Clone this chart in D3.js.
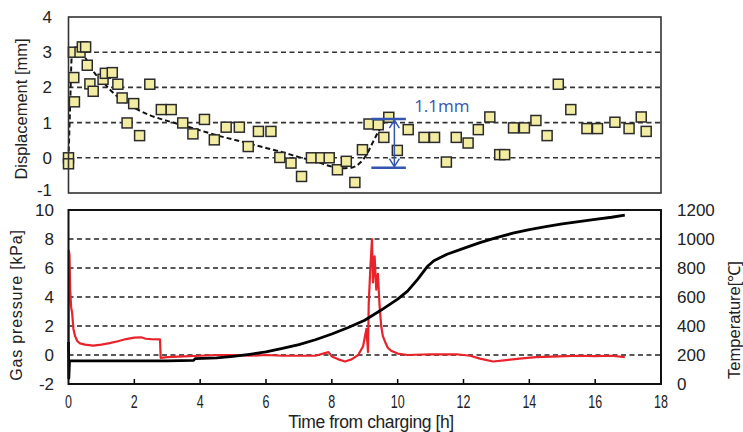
<!DOCTYPE html>
<html>
<head>
<meta charset="utf-8">
<script src="https://cdn.jsdelivr.net/npm/d3@7"></script>
<style>
  body { margin: 0; background: #fff; }
  svg { display: block; }
  text { font-family: Arial, "Liberation Sans", sans-serif; fill: #222; }
</style>
</head>
<body>
<div id="visual"></div>
<script>
// displacement measurements [h, mm]
const dispPoints = [
  [0, 0], [0, -0.17], [0.16, 2.28], [0.18, 1.59], [0.15, 3.0], [0.35, 3.0], [0.42, 3.15], [0.52, 3.15],
  [0.57, 2.63], [0.65, 2.1], [0.75, 1.89], [1.05, 2.23], [1.12, 2.4], [1.33, 2.42], [1.5, 2.09],
  [1.63, 1.7], [1.78, 0.99], [1.98, 1.54], [2.16, 0.63], [2.47, 2.09], [2.82, 1.37], [3.12, 1.37],
  [3.47, 0.99], [3.78, 0.68], [4.13, 1.09], [4.43, 0.51], [4.79, 0.87], [5.19, 0.87], [5.46, 0.32],
  [5.77, 0.75], [6.15, 0.75], [6.42, 0.01], [6.76, -0.15], [7.08, -0.53], [7.38, 0], [7.67, 0],
  [7.92, 0], [8.17, -0.34], [8.44, -0.1], [8.7, -0.7], [8.93, 0.23], [9.13, 0.96], [9.41, 0.94],
  [9.58, 0.58], [9.73, 1.15], [9.99, 0.21], [10.32, 0.8], [10.8, 0.58], [11.12, 0.58], [11.48, -0.12],
  [11.78, 0.58], [12.14, 0.42], [12.45, 0.8], [12.8, 1.16], [13.1, 0.09], [13.25, 0.09], [13.52, 0.85],
  [13.85, 0.85], [14.2, 1.06], [14.54, 0.63], [14.88, 2.09], [15.26, 1.37], [15.75, 0.83],
  [16.07, 0.83], [16.6, 1.01], [17.03, 0.83], [17.4, 1.16], [17.55, 0.75]
];

// dashed trend line [h, mm]
const dispTrend = [
  [0, -0.05], [0.05, 1.5], [0.1, 2.9], [0.18, 3.1], [0.28, 3.13], [0.4, 3.0], [0.6, 2.7], [0.8, 2.4],
  [1.0, 2.2], [1.3, 1.9], [1.6, 1.65], [2.0, 1.42], [2.5, 1.2], [3.0, 1.05], [3.5, 0.92], [4.0, 0.78],
  [4.5, 0.64], [5.0, 0.52], [5.5, 0.4], [6.0, 0.28], [6.5, 0.16], [7.0, 0.02], [7.5, -0.1], [8.0, -0.25],
  [8.3, -0.3], [8.6, -0.28], [8.85, -0.15], [9.05, 0.08], [9.25, 0.45], [9.45, 0.8], [9.7, 1.15]
];

// gas pressure [h, kPa]
const gasPressure = [
  [0, 0.2], [0.01, 7.2], [0.03, 6.9], [0.05, 4.5], [0.08, 3.3], [0.11, 2.9], [0.15, 1.8], [0.2, 1.3],
  [0.27, 0.95], [0.35, 0.8], [0.5, 0.72], [0.75, 0.65], [1.0, 0.72], [1.25, 0.82], [1.5, 0.95],
  [1.75, 1.1], [2.0, 1.2], [2.2, 1.22], [2.35, 1.12], [2.5, 1.1], [2.78, 1.08], [2.8, -0.2], [3.0, -0.15],
  [3.5, -0.1], [4.0, -0.05], [4.5, 0.0], [5.0, 0.0], [5.5, -0.05], [6.0, 0.0], [6.5, -0.05], [7.0, -0.05],
  [7.5, -0.05], [7.9, 0.2], [8.0, -0.1], [8.2, -0.3], [8.4, -0.45], [8.6, -0.3], [8.8, 0.0], [8.95, 0.6],
  [9.05, 1.8], [9.1, 0.2], [9.12, 3.5], [9.17, 6.0], [9.22, 8.0], [9.25, 5.0], [9.3, 6.8], [9.35, 4.5],
  [9.4, 5.6], [9.45, 3.4], [9.5, 2.0], [9.55, 1.3], [9.62, 0.9], [9.7, 0.5], [9.8, 0.3], [10.0, 0.1],
  [10.3, 0.0], [11.0, 0.05], [11.8, 0.05], [12.2, -0.05], [12.5, -0.25], [12.9, -0.45], [13.3, -0.35],
  [13.7, -0.25], [14.2, -0.15], [14.9, -0.1], [15.5, -0.05], [16.0, -0.08], [16.5, -0.05], [16.9, -0.15]
];

// temperature [h, degC]
const temperature = [
  [0, 290], [0.01, 40], [0.03, 160], [1, 160], [2, 160], [3, 160], [3.8, 163], [3.85, 175], [4.5, 180],
  [5, 190], [5.5, 205], [6, 222], [6.5, 245], [7, 272], [7.5, 305], [8, 345], [8.5, 390], [9, 440],
  [9.5, 510], [10, 585], [10.3, 640], [10.6, 720], [10.9, 810], [11.1, 850], [11.5, 895], [12, 935],
  [12.5, 975], [13, 1010], [13.5, 1040], [14, 1065], [14.5, 1085], [15, 1105], [15.5, 1120],
  [16, 1135], [16.5, 1150], [16.9, 1165]
];

// 1.1 mm annotation
const annotLevels = [1.1, -0.28];
const annotSpan = [9.2, 10.25];
const annotArrowX = 9.9;
const annotLabel = "1.1mm";

const xTicks = [0, 2, 4, 6, 8, 10, 12, 14, 16, 18];
const dispTicks = [-1, 0, 1, 2, 3, 4];
const dispGrid = [0, 1, 2, 3];
const gasTicks = [-2, 0, 2, 4, 6, 8, 10];
const gasGrid = [0, 2, 4, 6, 8];
const tempTicks = [0, 200, 400, 600, 800, 1000, 1200];

const width = 743, height = 432;
const svg = d3.select("#visual").append("svg")
  .attr("width", width).attr("height", height);

const x = d3.scaleLinear().domain([0, 18]).range([68.5, 661]);
const yDisp = d3.scaleLinear().domain([-1, 4]).range([193, 17]);
const yGas = d3.scaleLinear().domain([-2, 10]).range([384, 210]);
const yTemp = d3.scaleLinear().domain([0, 1200]).range([384, 210]);

// ---------- top panel ----------
const topG = svg.append("g");

topG.selectAll(".grid").data(dispGrid).enter().append("line")
  .attr("x1", x(0)).attr("x2", x(18))
  .attr("y1", d => yDisp(d)).attr("y2", d => yDisp(d))
  .attr("stroke", "#333").attr("stroke-width", 1.6).attr("stroke-dasharray", "5,3.5");

topG.append("path")
  .datum(dispTrend)
  .attr("fill", "none").attr("stroke", "#111").attr("stroke-width", 2)
  .attr("stroke-dasharray", "5,3")
  .attr("d", d3.line().curve(d3.curveMonotoneX).x(d => x(d[0])).y(d => yDisp(d[1])));

topG.selectAll(".pt").data(dispPoints).enter().append("rect")
  .attr("x", d => x(d[0]) - 5).attr("y", d => yDisp(d[1]) - 5)
  .attr("width", 10).attr("height", 10)
  .attr("fill", "#F3EDA4").attr("stroke", "#2b2b2b").attr("stroke-width", 1.5);

topG.append("rect")
  .attr("x", x(0)).attr("y", yDisp(4))
  .attr("width", x(18) - x(0)).attr("height", yDisp(-1) - yDisp(4))
  .attr("fill", "none").attr("stroke", "#333").attr("stroke-width", 1.6);

topG.selectAll(".ylab").data(dispTicks).enter().append("text")
  .attr("x", 52).attr("y", d => yDisp(d) + (d === -1 ? 3 : 6))
  .attr("text-anchor", "end").style("font-size", "17px")
  .text(d => d);

topG.append("text")
  .attr("transform", "translate(27," + 109 + ") rotate(-90)")
  .attr("text-anchor", "middle").style("font-size", "16.5px")
  .text("Displacement [mm]");

// annotation
const blue = "#3555B0";
topG.selectAll(".annot").data(annotLevels).enter().append("line")
  .attr("x1", x(annotSpan[0])).attr("x2", x(annotSpan[1]))
  .attr("y1", d => yDisp(d)).attr("y2", d => yDisp(d))
  .attr("stroke", blue).attr("stroke-width", 2.5);

const ax = x(annotArrowX);
const ay1 = yDisp(annotLevels[0]) + 1, ay2 = yDisp(annotLevels[1]) - 1;
topG.append("line").attr("x1", ax).attr("x2", ax).attr("y1", ay1).attr("y2", ay2)
  .attr("stroke", blue).attr("stroke-width", 1.5);
topG.append("path")
  .attr("d", `M${ax - 5},${ay1 + 8}L${ax},${ay1}L${ax + 5},${ay1 + 8}M${ax - 5},${ay2 - 8}L${ax},${ay2}L${ax + 5},${ay2 - 8}`)
  .attr("fill", "none").attr("stroke", blue).attr("stroke-width", 1.5);

topG.append("text")
  .attr("x", x(10.5)).attr("y", yDisp(1.31))
  .style("font-size", "17px").style("fill", blue)
  .style("font-family", "'Open Sans', Calibri, sans-serif")
  .text(annotLabel);

// ---------- bottom panel ----------
const botG = svg.append("g");

botG.selectAll(".grid").data(gasGrid).enter().append("line")
  .attr("x1", x(0)).attr("x2", x(18))
  .attr("y1", d => yGas(d)).attr("y2", d => yGas(d))
  .attr("stroke", "#222").attr("stroke-width", 1.6).attr("stroke-dasharray", "5,3.5");

botG.append("path")
  .datum(gasPressure)
  .attr("fill", "none").attr("stroke", "#E8232B").attr("stroke-width", 2.2)
  .attr("stroke-linejoin", "round")
  .attr("d", d3.line().x(d => x(d[0])).y(d => yGas(d[1])));

botG.append("path")
  .datum(temperature)
  .attr("fill", "none").attr("stroke", "#000").attr("stroke-width", 2.8)
  .attr("stroke-linejoin", "round")
  .attr("d", d3.line().x(d => x(d[0])).y(d => yTemp(d[1])));

// inner ticks on bottom edge
botG.selectAll(".xt").data(xTicks.slice(1, -1)).enter().append("line")
  .attr("x1", d => x(d)).attr("x2", d => x(d))
  .attr("y1", yGas(-2)).attr("y2", yGas(-2) - 5)
  .attr("stroke", "#000").attr("stroke-width", 1.5);

botG.append("rect")
  .attr("x", x(0)).attr("y", yGas(10))
  .attr("width", x(18) - x(0)).attr("height", yGas(-2) - yGas(10))
  .attr("fill", "none").attr("stroke", "#111").attr("stroke-width", 2);

// condensed tick numbers under the bottom panel
botG.selectAll(".xlab").data(xTicks).enter().append("text")
  .attr("transform", d => "translate(" + x(d) + ",408) scale(0.78,1.12)")
  .attr("text-anchor", "middle")
  .style("font-size", "16px")
  .text(d => d);

botG.selectAll(".ylab").data(gasTicks).enter().append("text")
  .attr("x", 54).attr("y", d => yGas(d) + 6)
  .attr("text-anchor", "end").style("font-size", "17px")
  .text(d => d);

botG.selectAll(".rlab").data(tempTicks).enter().append("text")
  .attr("x", 677).attr("y", d => yTemp(d) + 6)
  .style("font-size", "17px")
  .text(d => d);

botG.append("text")
  .attr("transform", "translate(22," + 305 + ") rotate(-90)")
  .attr("text-anchor", "middle").style("font-size", "16px")
  .style("letter-spacing", "0.8px")
  .text("Gas pressure [kPa]");

botG.append("text")
  .attr("transform", "translate(740," + 320 + ") rotate(-90)")
  .attr("text-anchor", "middle").style("font-size", "16.5px")
  .text("Temperature[℃]");

botG.append("text")
  .attr("x", 371).attr("y", 428)
  .attr("text-anchor", "middle").style("font-size", "17.5px")
  .style("letter-spacing", "-0.4px")
  .text("Time from charging [h]");
</script>
</body>
</html>
